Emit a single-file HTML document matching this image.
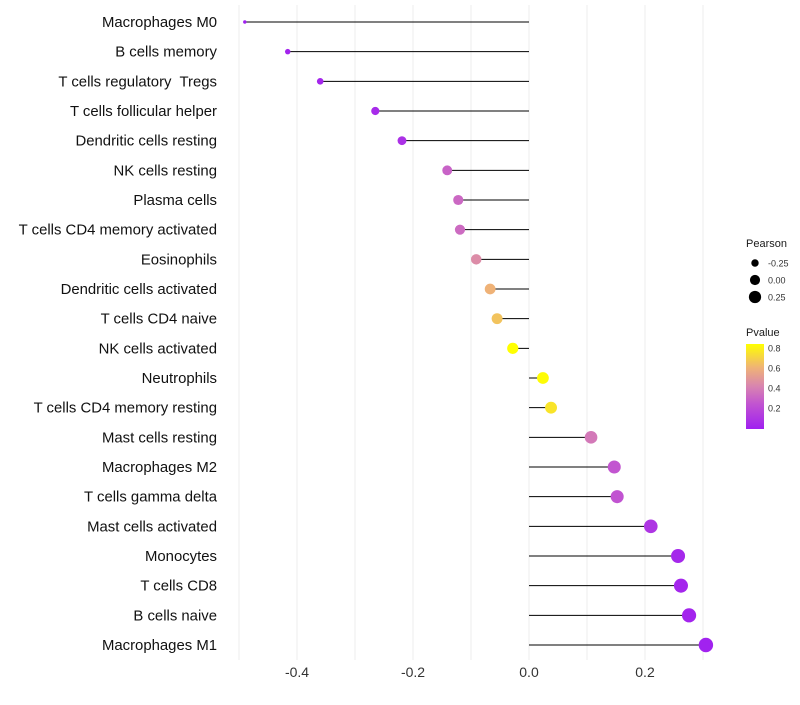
<!DOCTYPE html>
<html><head><meta charset="utf-8"><style>
body{margin:0;background:#fff;font-family:"Liberation Sans",sans-serif}
text{white-space:pre}
</style></head><body>
<svg id="c" width="800" height="700" xmlns="http://www.w3.org/2000/svg">
<defs><linearGradient id="pg" x1="0" y1="1" x2="0" y2="0">
<stop offset="0" stop-color="#a020f0"/><stop offset="0.3" stop-color="#c255d0"/><stop offset="0.5" stop-color="#d884b0"/><stop offset="0.72" stop-color="#efb277"/><stop offset="1" stop-color="#ffff00"/></linearGradient></defs>
</svg>
<script>
const categories=["Macrophages M0","B cells memory","T cells regulatory  Tregs","T cells follicular helper","Dendritic cells resting","NK cells resting","Plasma cells","T cells CD4 memory activated","Eosinophils","Dendritic cells activated","T cells CD4 naive","NK cells activated","Neutrophils","T cells CD4 memory resting","Mast cells resting","Macrophages M2","T cells gamma delta","Mast cells activated","Monocytes","T cells CD8","B cells naive","Macrophages M1"];
const pearson=[-0.49,-0.416,-0.36,-0.265,-0.219,-0.141,-0.122,-0.119,-0.091,-0.067,-0.055,-0.028,0.024,0.038,0.107,0.147,0.152,0.21,0.257,0.262,0.276,0.305];
const pvalue=[0.0,0.02,0.03,0.05,0.08,0.3,0.32,0.33,0.45,0.6,0.65,0.83,0.82,0.75,0.38,0.25,0.24,0.1,0.04,0.03,0.02,0.01];
const xTicks=[-0.4,-0.2,0.0,0.2];
const gridVals=[-0.5,-0.4,-0.3,-0.2,-0.1,0,0.1,0.2,0.3];
const sizeLegend=[-0.25,0.00,0.25];
const pTicks=[0.2,0.4,0.6,0.8];
const svg=document.getElementById('c');const NS="http://www.w3.org/2000/svg";
const x=v=>529+v*580;
const y=i=>22+i*(623/21);
const pmin=Math.min(...pearson),pmax=Math.max(...pearson);
const r=v=>{const t=Math.max(0,(v-pmin)/(pmax-pmin));return Math.sqrt(2.9+(52-2.9)*t);};
const stops=[[0,[160,32,240]],[0.25,[194,85,208]],[0.42,[216,132,176]],[0.6,[239,178,119]],[0.83,[255,255,0]]];
function col(p){p=Math.max(0,Math.min(0.83,p));for(let k=1;k<stops.length;k++){if(p<=stops[k][0]){const a=stops[k-1],b=stops[k];const t=(p-a[0])/(b[0]-a[0]);return 'rgb('+a[1].map((c,j)=>Math.round(c+(b[1][j]-c)*t)).join(',')+')';}}return 'rgb(255,255,0)';}
function el(t,a,txt){const e=document.createElementNS(NS,t);for(const k in a)e.setAttribute(k,a[k]);if(txt!==undefined)e.textContent=txt;svg.appendChild(e);return e;}
gridVals.forEach(v=>{const g=el('line',{x1:x(v),x2:x(v),y1:5,y2:660,stroke:'#ededed','stroke-width':1});

});
xTicks.forEach(v=>{const t=el('text',{x:x(v),y:677,'text-anchor':'middle','font-size':14,fill:'#333'},v.toFixed(1));

});
categories.forEach((c,i)=>{
const t=el('text',{x:217,y:y(i)+5,'text-anchor':'end','font-size':14.9,fill:'#111'},c);


const l=el('line',{x1:x(0),x2:x(pearson[i]),y1:y(i),y2:y(i),stroke:'#000','stroke-width':1});


const d=el('circle',{cx:x(pearson[i]),cy:y(i),r:r(pearson[i]),fill:col(pvalue[i])});


});
let t=el('text',{x:746,y:247,'font-size':11,fill:'#1a1a1a'},'Pearson');


sizeLegend.forEach((v,k)=>{const cy=263+k*17;
const c=el('circle',{cx:755,cy:cy,r:r(v)*0.88,fill:'#000'});


const tt=el('text',{x:768,y:cy+3.5,'font-size':9,fill:'#333'},v.toFixed(2));

});
t=el('text',{x:746,y:336,'font-size':11,fill:'#1a1a1a'},'Pvalue');


const bar=el('rect',{x:746,y:344,width:18,height:85,fill:'url(#pg)'});


pTicks.forEach(v=>{const py=428-v*100;
const tt=el('text',{x:768,y:py+3.5,'font-size':9,fill:'#333'},v.toFixed(1));

});
</script>
</body></html>
